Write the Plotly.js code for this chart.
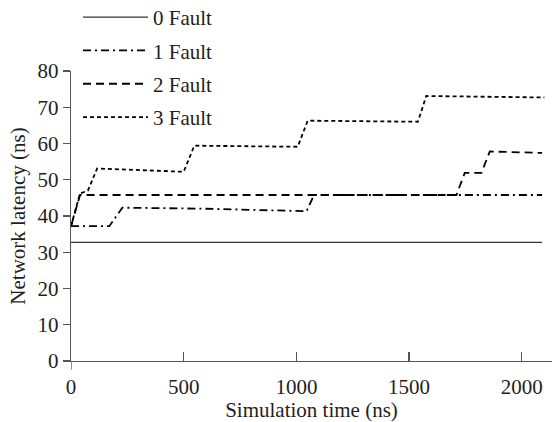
<!DOCTYPE html>
<html>
<head>
<meta charset="utf-8">
<script src="https://cdn.plot.ly/plotly-3.0.1.min.js"></script>
<style>html,body{margin:0;padding:0;background:#fff;}#chart{width:554px;height:422px;}</style>
</head>
<body>
<div id="chart"></div>
<script>
const seriesNames = ["0 Fault", "1 Fault", "2 Fault", "3 Fault"];

const fault0X = [0, 2090];
const fault0Y = [32.7, 32.7];

const fault1X = [0, 170, 228, 600, 1000, 1045, 1078, 2090];
const fault1Y = [37.2, 37.2, 42.3, 42.0, 41.4, 41.3, 45.8, 45.8];

const fault2X = [0, 40, 1710, 1747, 1821, 1858, 2090];
const fault2Y = [37.2, 45.8, 45.8, 51.9, 51.9, 57.8, 57.4];

const fault3X = [0, 40, 75, 116, 500, 547, 1006, 1050, 1539, 1576, 2100];
const fault3Y = [37.2, 46.2, 47.0, 53.1, 52.2, 59.4, 59.1, 66.3, 66.0, 73.1, 72.7];

const xTicks = [0, 500, 1000, 1500, 2000];
const yTicks = [0, 10, 20, 30, 40, 50, 60, 70, 80];

const FONT = "Liberation Serif, Times New Roman, serif";
const TXT = "#231f20";
const FS = 21;

const styles = [
  {color: "#333333", width: 1.3, dash: "solid"},
  {color: "#000000", width: 1.8, dash: "8px,4px,2px,4px"},
  {color: "#000000", width: 1.8, dash: "8px,5px"},
  {color: "#000000", width: 1.8, dash: "4px,3px"}
];
const xs = [fault0X, fault1X, fault2X, fault3X];
const ys = [fault0Y, fault1Y, fault2Y, fault3Y];

const data = seriesNames.map((n, i) => ({
  type: "scatter", mode: "lines", name: n,
  x: xs[i], y: ys[i], legendgroup: "g" + i,
  line: styles[i]
}));

const layout = {
  width: 554, height: 422,
  margin: {l: 71, r: 2, t: 71, b: 61, autoexpand: false},
  paper_bgcolor: "#fff", plot_bgcolor: "#fff",
  font: {family: FONT, color: TXT, size: FS},
  showlegend: true,
  legend: {
    x: 7/481, xanchor: "left", y: 1 + 74/290, yanchor: "top",
    bgcolor: "rgba(0,0,0,0)",
    itemwidth: 65, tracegroupgap: 3, traceorder: "grouped",
    font: {family: FONT, size: FS, color: TXT}
  },
  xaxis: {
    range: [0, 2134], tickvals: xTicks, ticktext: xTicks.map(String),
    showgrid: false, zeroline: false, showline: true, linecolor: "#555", linewidth: 1.3,
    ticks: "inside", ticklen: 9, tickcolor: "#555", tickwidth: 1.3,
    ticklabelstandoff: 6, automargin: false,
    tickfont: {family: FONT, size: FS, color: TXT},
    title: {text: "Simulation time (ns)", font: {family: FONT, size: FS, color: TXT}, standoff: 0}
  },
  yaxis: {
    range: [0, 80], tickvals: yTicks, ticktext: yTicks.map(String),
    showgrid: false, zeroline: false, showline: true, linecolor: "#555", linewidth: 1.3,
    ticks: "outside", ticklen: 7, tickcolor: "#555", tickwidth: 1.3, automargin: false,
    tickfont: {family: FONT, size: FS, color: TXT},
    title: {text: "Network latency (ns)", font: {family: FONT, size: FS, color: TXT}, standoff: 6}
  },
  shapes: [
    {type: "line", xref: "x", yref: "paper", x0: 0, x1: 0, y0: 0, y1: -0.03,
     line: {color: "#555", width: 1.3}}
  ]
};

Plotly.newPlot("chart", data, layout, {displayModeBar: false, staticPlot: true});
</script>
</body>
</html>
